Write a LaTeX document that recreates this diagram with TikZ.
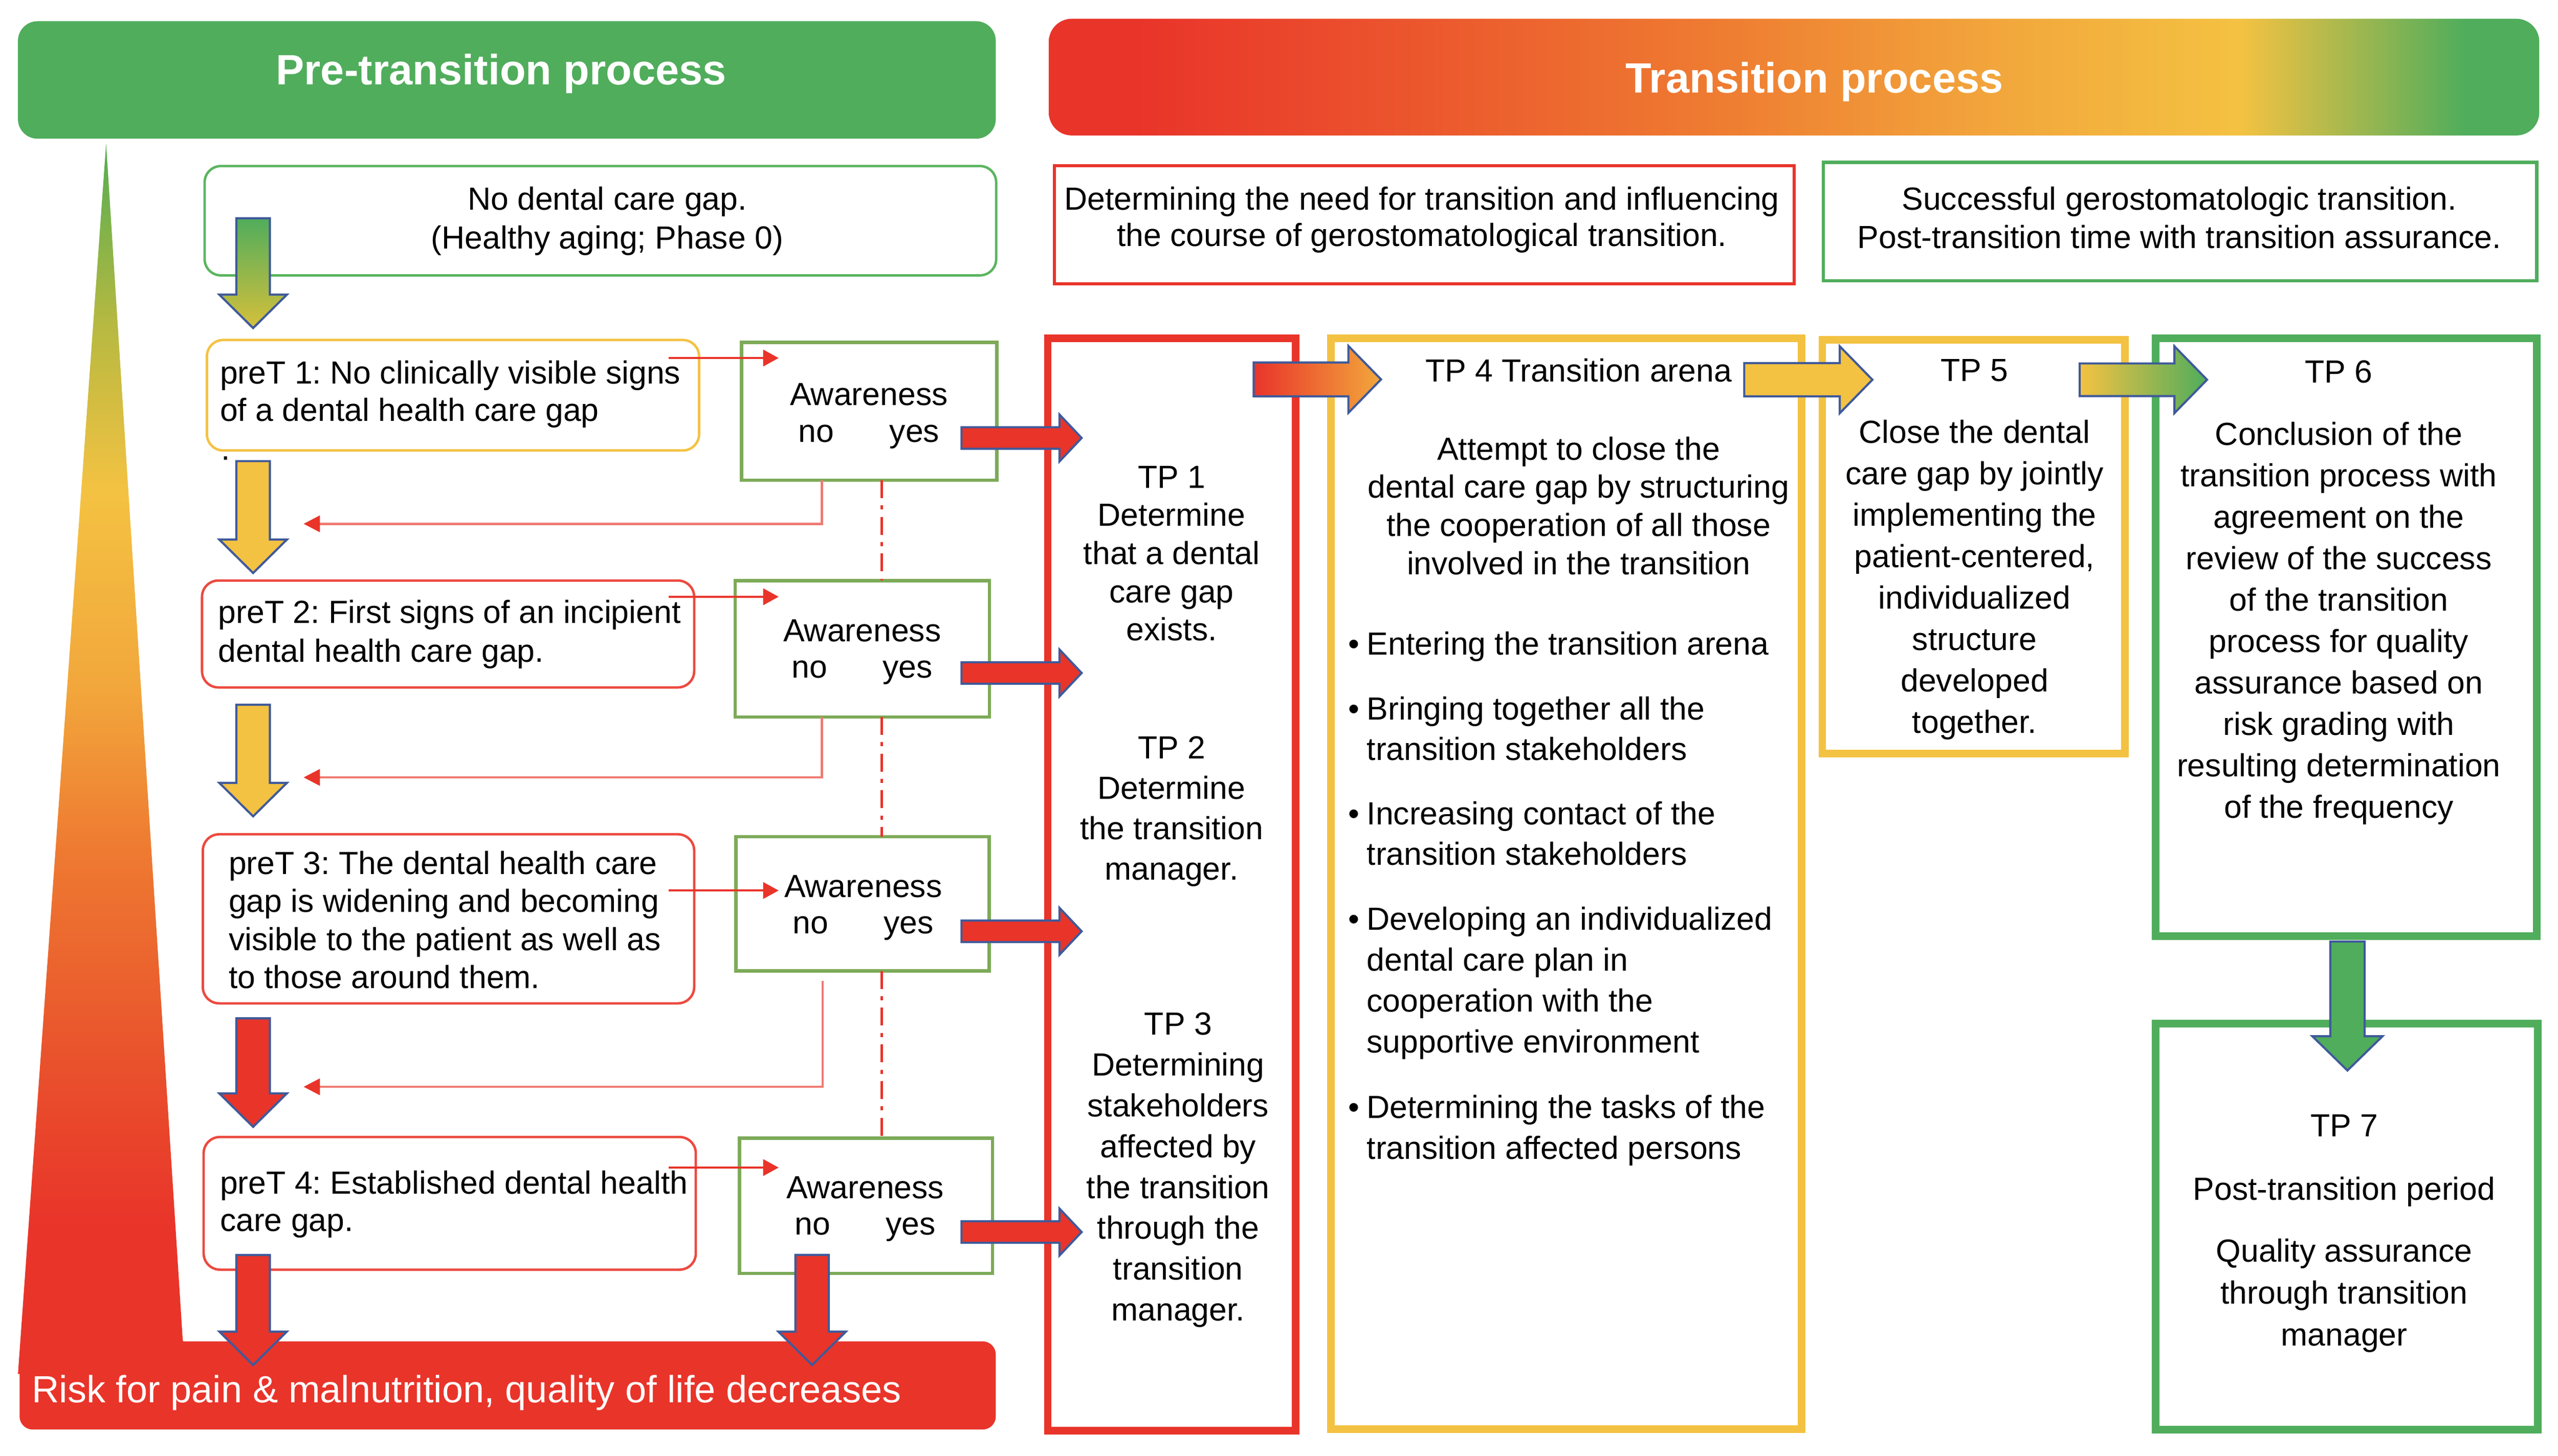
\documentclass[tikz,border=0pt]{standalone}
\usepackage{fontspec}
\setmainfont{Liberation Sans}
\usetikzlibrary{calc,arrows.meta}
\definecolor{cRed}{HTML}{E9342A}
\definecolor{cYel}{HTML}{F4C242}
\definecolor{cGrn}{HTML}{50AD5C}
\definecolor{cAw}{HTML}{7DAA58}
\definecolor{cBlue}{HTML}{3F5A9A}
\definecolor{cOr}{HTML}{EE7A31}
\definecolor{cOrB}{HTML}{F2A73C}
\definecolor{cOlive}{HTML}{B7B941}
\definecolor{cTriG}{HTML}{5DAE50}
\definecolor{cRO}{HTML}{E9512C}
\definecolor{cFb}{HTML}{EF7B73}
\definecolor{cPre}{HTML}{EC4A40}
\definecolor{cNoGap}{HTML}{5BB55F}
\definecolor{cArrG}{HTML}{D6C03B}
\pgfdeclarehorizontalshading{transhade}{100bp}{color(0bp)=(cRed); color(28bp)=(cRed); color(47bp)=(cOr); color(57bp)=(cOrB); color(65bp)=(cYel); color(72.5bp)=(cGrn); color(100bp)=(cGrn)}
\pgfdeclareverticalshading{trishade}{100bp}{color(0bp)=(cRed); color(31bp)=(cRed); color(37.6bp)=(cRO); color(46.3bp)=(cOr); color(52.9bp)=(cOrB); color(60.9bp)=(cYel); color(67.6bp)=(cOlive); color(74.2bp)=(cTriG); color(100bp)=(cTriG)}
\newcommand\FL{\rule{0pt}{15pt}}
\newcommand\mkbox[7]{\node[inner sep=0pt, outer sep=0pt, #1, minimum width={#5-#3}, minimum height={#6-#4}] (#2) at ({(#3+#5)/2},{(#4+#6)/2}) {#7};}
\newcommand\blockR[6]{\path[#1] let \p1=(#2), \p2=(#3) in (\x1,\y1+#4pt) -- (\x2-#6pt,\y1+#4pt) -- (\x2-#6pt,\y1+#5pt) -- (\x2,\y1) -- (\x2-#6pt,\y1-#5pt) -- (\x2-#6pt,\y1-#4pt) -- (\x1,\y1-#4pt) -- cycle;}
\newcommand\blockD[6]{\path[#1] let \p1=(#2), \p2=(#3) in (\x1-#4pt,\y1) -- (\x1+#4pt,\y1) -- (\x1+#4pt,\y2+#6pt) -- (\x1+#5pt,\y2+#6pt) -- (\x1,\y2) -- (\x1-#5pt,\y2+#6pt) -- (\x1-#4pt,\y2+#6pt) -- cycle;}
\frenchspacing
\begin{document}
\begin{tikzpicture}[x=1pt,y=-1pt,
  txt/.style={inner sep=0pt, outer sep=0pt, align=center, text=black, font=\fontsize{19.6}{#1}\selectfont},
  txt/.default=23.5,
  tpframe/.style={draw=#1, line width=4.6pt},
  awbox/.style={draw=cAw, line width=2pt},
  prebox/.style={draw=#1, line width=1.5pt, rounded corners=10pt},
  tbox/.style={draw=#1, line width=2pt},
  barrowline/.style={draw=cBlue, line width=1.3pt, line join=miter},
  barrow/.style={barrowline, fill=#1},
  thinarr/.style={draw=cRed, line width=1.4pt, -{Triangle[length=9.5pt,width=10pt]}},
  fbarr/.style={draw=cFb, line width=1.4pt, -{Triangle[length=10pt,width=10pt,color=cRed]}},
  ddline/.style={draw=cRed, line width=1.6pt, dash pattern=on 11pt off 4.5pt on 2.5pt off 4.5pt},
  hdrtxt/.style={inner sep=0pt, text=white, font=\fontsize{26}{30}\selectfont\bfseries}
]
\useasboundingbox (0,0) rectangle (1567,892);
\fill[white] (0,0) rectangle (1567,892);

% headers
\mkbox{fill=cGrn, rounded corners=12pt}{hdrL}{11}{13}{610}{85}{}
\mkbox{shade, shading=transhade, rounded corners=14pt}{hdrR}{642.5}{11.5}{1555.5}{83}{}
\node[hdrtxt, anchor=base] (hdrLT) at (307,52) {Pre-transition process};
\node[hdrtxt, anchor=base] (hdrRT) at (1111.5,57) {Transition process};

% risk bar and triangle
\mkbox{fill=cRed, rounded corners=8pt}{bar}{12}{822}{610}{876}{}
\path[shade, shading=trishade] (65,88) -- (112,822) -- (112,842) -- (11,842) -- cycle;
\node[inner sep=0pt, anchor=base west, text=white, font=\fontsize{23.2}{28}\selectfont] (risk) at (19.3,859.6) {Risk for pain \& malnutrition, quality of life decreases};

% left boxes
\mkbox{prebox=cNoGap}{nogap}{125.35}{101.75}{610.25}{168.75}{}
\mkbox{prebox=cYel}{pre1}{126.75}{208.35}{428.25}{276.05}{}
\mkbox{prebox=cPre}{pre2}{123.75}{355.75}{425.25}{421.25}{}
\mkbox{prebox=cPre}{pre3}{124.25}{511.25}{425.25}{614.85}{}
\mkbox{prebox=cPre}{pre4}{124.75}{696.75}{426.25}{778.05}{}
\mkbox{awbox}{aw1}{454.3}{209.8}{610.6}{294.2}{}
\mkbox{awbox}{aw2}{450.4}{355.8}{606.2}{439.3}{}
\mkbox{awbox}{aw3}{450.8}{512.8}{606}{595}{}
\mkbox{awbox}{aw4}{453}{697.5}{608}{780.3}{}

% top text boxes
\mkbox{tbox=cRed}{need}{646}{101.5}{1099}{174}{}
\mkbox{tbox=cGrn}{succ}{1117}{99.5}{1554}{172}{}

% frames
\mkbox{tpframe=cRed}{frA}{641.8}{207.3}{793.7}{876.7}{}
\mkbox{tpframe=cYel}{frB}{815.3}{207.3}{1103.7}{875.7}{}
\mkbox{tpframe=cYel}{frC}{1116.3}{208.3}{1301.7}{461.7}{}
\mkbox{tpframe=cGrn}{frD}{1320.5}{207.3}{1554}{573.7}{}
\mkbox{tpframe=cGrn}{frE}{1320.5}{627.3}{1554.5}{876.2}{}

% feedback lines
\coordinate (f1e) at (186,321);
\coordinate (f2e) at (186,476.4);
\coordinate (f3e) at (186,666);
\draw[fbarr] ([xshift=-28.95pt]aw1.south) |- (f1e);
\draw[fbarr] ([xshift=-24.8pt]aw2.south) |- (f2e);
\draw[fbarr] ([xshift=-24.4pt,yshift=-6pt]aw3.south) |- (f3e);

% dash-dot line
\coordinate (dd) at (540,0);
\draw[ddline] (dd |- aw1.south) -- (dd |- aw2.north);
\draw[ddline] (dd |- aw2.south) -- (dd |- aw3.north);
\draw[ddline] (dd |- aw3.south) -- (dd |- aw4.north);

% thin arrows
\coordinate (t1s) at ($(pre1.east)+(-18.75,-22.8)$);
\coordinate (t1t) at ($(t1s -| aw1.west)+(22.7,0)$);
\coordinate (t2s) at ($(pre2.east)+(-15.75,-22.8)$);
\coordinate (t2t) at ($(t2s -| aw2.west)+(26.6,0)$);
\coordinate (t3s) at ($(pre3.east)+(-15.75,-17.35)$);
\coordinate (t3t) at ($(t3s -| aw3.west)+(26.2,0)$);
\coordinate (t4s) at ($(pre4.east)+(-16.75,-21.9)$);
\coordinate (t4t) at ($(t4s -| aw4.west)+(24,0)$);
\draw[thinarr] (t1s) -- (t1t);
\draw[thinarr] (t2s) -- (t2t);
\draw[thinarr] (t3s) -- (t3t);
\draw[thinarr] (t4s) -- (t4t);

% down block arrows (left column)
\coordinate (d0s) at ($(nogap.south west)+(29.7,-35)$);
\coordinate (d0t) at ($(d0s |- pre1.north)+(0,-7.3)$);
\coordinate (d1s) at ($(d0s |- pre1.south)+(0,6.5)$);
\coordinate (d1t) at ($(d0s |- pre2.north)+(0,-4.6)$);
\coordinate (d2s) at ($(d0s |- pre2.south)+(0,10.6)$);
\coordinate (d2t) at ($(d0s |- pre3.north)+(0,-11)$);
\coordinate (d3s) at ($(d0s |- pre3.south)+(0,9.2)$);
\coordinate (d3t) at ($(d0s |- pre4.north)+(0,-6.2)$);
\coordinate (d4s) at ($(d0s |- pre4.south)+(0,-9)$);
\coordinate (d4t) at ($(d0s |- bar.north)+(0,14.5)$);
\coordinate (d5s) at ($(aw4.south)+(-33,-11.3)$);
\coordinate (d5t) at ($(d5s |- bar.north)+(0,14.5)$);
\blockD{barrowline, top color=cGrn, bottom color=cArrG}{d0s}{d0t}{10.25}{20.7}{20.5}
\blockD{barrow=cYel}{d1s}{d1t}{10.25}{20.7}{20.5}
\blockD{barrow=cYel}{d2s}{d2t}{10.25}{20.7}{20.5}
\blockD{barrow=cRed}{d3s}{d3t}{10.25}{20.7}{20.5}
\blockD{barrow=cRed}{d4s}{d4t}{10.25}{20.7}{20.5}
\blockD{barrow=cRed}{d5s}{d5t}{10.25}{20.7}{20.5}

% right block arrows (awareness -> TP frame)
\coordinate (r1s) at ($(aw1.east)+(-21.6,16.4)$);
\coordinate (r2s) at ($(aw2.east)+(-17.2,14.85)$);
\coordinate (r3s) at ($(aw3.east)+(-17,16.8)$);
\coordinate (r4s) at ($(aw4.east)+(-19,16.1)$);
\coordinate (r1t) at ($(r1s -| frA.west)+(20.8,0)$);
\coordinate (r2t) at ($(r2s -| frA.west)+(20.8,0)$);
\coordinate (r3t) at ($(r3s -| frA.west)+(20.8,0)$);
\coordinate (r4t) at ($(r4s -| frA.west)+(20.8,0)$);
\blockR{barrow=cRed}{r1s}{r1t}{6.6}{14.4}{13.6}
\blockR{barrow=cRed}{r2s}{r2t}{6.6}{14.4}{13.6}
\blockR{barrow=cRed}{r3s}{r3t}{6.6}{14.4}{13.6}
\blockR{barrow=cRed}{r4s}{r4t}{6.6}{14.4}{13.6}

% top block arrows between frames
\coordinate (a1s) at ($(frA.north east)+(-25.7,25.2)$);
\coordinate (a1t) at ($(a1s -| frB.west)+(30.7,0)$);
\coordinate (a2s) at ($(frB.north east)+(-35.2,25.4)$);
\coordinate (a2t) at ($(a2s -| frC.west)+(30.7,0)$);
\coordinate (a3s) at ($(frC.north east)+(-27.7,24.4)$);
\coordinate (a3t) at ($(a3s -| frD.west)+(31.5,0)$);
\blockR{barrowline, left color=cRed, right color=cOrB}{a1s}{a1t}{10.4}{20.5}{20}
\blockR{barrow=cYel}{a2s}{a2t}{10.2}{20.5}{20}
\blockR{barrowline, left color=cYel, right color=cGrn}{a3s}{a3t}{10}{20.5}{20}
\coordinate (g1s) at ($(frD.south)+(0.75,3.3)$);
\coordinate (g1t) at ($(g1s |- frE.north)+(0,28.7)$);
\blockD{barrow=cGrn}{g1s}{g1t}{10.5}{21.5}{21}

% texts left
\node[txt=23.8, anchor=north] (nogapT) at (372,113.6) {\FL No dental care gap.\\(Healthy aging; Phase 0)};
\node[txt=22.8, align=left, anchor=north west] (pre1T) at (134.8,220.3) {\FL preT 1: No clinically visible signs\\of a dental health care gap};
\node[txt, anchor=base west] (dot) at (135.5,282) {.};
\node[txt=23.7, align=left, anchor=north west] (pre2T) at (133.8,367) {\FL preT 2: First signs of an incipient\\dental health care gap.};
\node[txt=23.3, align=left, anchor=north west] (pre3T) at (140.1,520.7) {\FL preT 3: The dental health care\\gap is widening and becoming\\visible to the patient as well as\\to those around them.};
\node[txt=22.7, align=left, anchor=north west] (pre4T) at (134.8,716.7) {\FL preT 4: Established dental health\\care gap.};
\node[txt=22.3, anchor=north] (aw1T) at (532.3,233.5) {\FL Awareness\\no\hspace{34pt}yes};
\node[txt=22.3, anchor=north] (aw2T) at (528.2,378) {\FL Awareness\\no\hspace{34pt}yes};
\node[txt=22.3, anchor=north] (aw3T) at (528.8,534.9) {\FL Awareness\\no\hspace{34pt}yes};
\node[txt=22.3, anchor=north] (aw4T) at (530,719.3) {\FL Awareness\\no\hspace{34pt}yes};

% texts top boxes
\node[txt=22.4, anchor=north] (needT) at (871,113.5) {\FL Determining the need for transition and influencing\\the course of gerostomatological transition.};
\node[txt=23.5, anchor=north] (succT) at (1335,113.5) {\FL Successful gerostomatologic transition.\\Post-transition time with transition assurance.};

% TP 1-3
\node[txt=23.4, anchor=north] (tp1) at (717.7,284) {\FL TP 1\\Determine\\that a dental\\care gap\\exists.};
\node[txt=24.7, anchor=north] (tp2) at (717.7,450) {\FL TP 2\\Determine\\the transition\\manager.};
\node[txt=25, anchor=north] (tp3) at (721.7,619.3) {\FL TP 3\\Determining\\stakeholders\\affected by\\the transition\\through the\\transition\\manager.};

% TP 4
\node[txt, anchor=base] (tp4) at (967,234) {TP 4 Transition arena};
\node[txt=23.4, anchor=north] (tp4i) at (967,266.8) {\FL Attempt to close the\\dental care gap by structuring\\the cooperation of all those\\involved in the transition};
\node[txt=25, align=left, anchor=north west] (b1) at (825.9,386.3) {\FL\makebox[11.4pt][l]{•}Entering the transition arena};
\node[txt=25, align=left, anchor=north west] (b2) at (825.9,426) {\FL\makebox[11.4pt][l]{•}Bringing together all the\\\hspace*{11.4pt}transition stakeholders};
\node[txt=25, align=left, anchor=north west] (b3) at (825.9,490.2) {\FL\makebox[11.4pt][l]{•}Increasing contact of the\\\hspace*{11.4pt}transition stakeholders};
\node[txt=25, align=left, anchor=north west] (b4) at (825.9,555) {\FL\makebox[11.4pt][l]{•}Developing an individualized\\\hspace*{11.4pt}dental care plan in\\\hspace*{11.4pt}cooperation with the\\\hspace*{11.4pt}supportive environment};
\node[txt=25, align=left, anchor=north west] (b5) at (825.9,670.3) {\FL\makebox[11.4pt][l]{•}Determining the tasks of the\\\hspace*{11.4pt}transition affected persons};

% TP 5
\node[txt, anchor=base] (tp5) at (1209.6,233.6) {TP 5};
\node[txt=25.4, anchor=north] (tp5b) at (1209.6,256.6) {\FL Close the dental\\care gap by jointly\\implementing the\\patient-centered,\\individualized\\structure\\developed\\together.};

% TP 6
\node[txt, anchor=base] (tp6) at (1432.7,234.7) {TP 6};
\node[txt=25.4, anchor=north] (tp6b) at (1432.7,257.7) {\FL Conclusion of the\\transition process with\\agreement on the\\review of the success\\of the transition\\process for quality\\assurance based on\\risk grading with\\resulting determination\\of the frequency};

% TP 7
\node[txt, anchor=base] (tp7) at (1436,696.5) {TP 7};
\node[txt, anchor=base] (tp7a) at (1436,735.5) {Post-transition period};
\node[txt=25.6, anchor=north] (tp7b) at (1436,758.4) {\FL Quality assurance\\through transition\\manager};
\end{tikzpicture}
\end{document}
